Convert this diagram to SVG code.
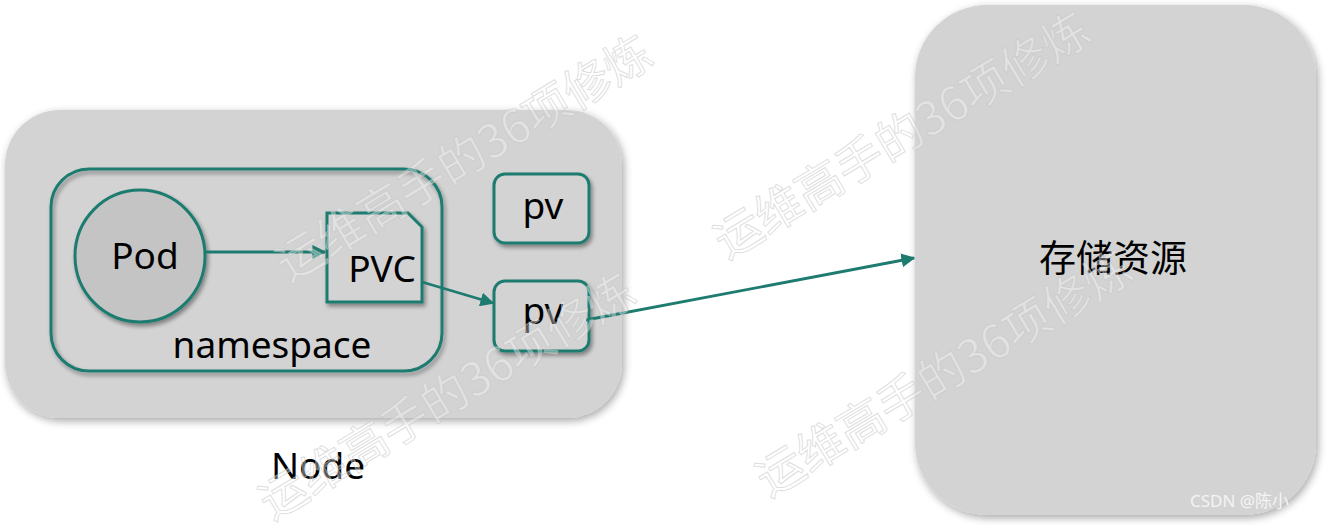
<svg xmlns="http://www.w3.org/2000/svg" width="1328" height="525" viewBox="0 0 1328 525">
<defs>
<filter id="soft" x="-10%" y="-10%" width="120%" height="120%">
<feGaussianBlur in="SourceAlpha" stdDeviation="4"/>
<feOffset dx="2" dy="3" result="b"/>
<feComponentTransfer><feFuncA type="linear" slope="0.35"/></feComponentTransfer>
<feMerge><feMergeNode/><feMergeNode in="SourceGraphic"/></feMerge>
</filter>
<filter id="sh" x="-10%" y="-10%" width="125%" height="125%">
<feGaussianBlur in="SourceAlpha" stdDeviation="2"/>
<feOffset dx="2" dy="3" result="b"/>
<feComponentTransfer><feFuncA type="linear" slope="0.4"/></feComponentTransfer>
<feMerge><feMergeNode/><feMergeNode in="SourceGraphic"/></feMerge>
</filter>
<marker id="arr" viewBox="0 0 10 10" refX="9" refY="5" markerWidth="5" markerHeight="5" orient="auto" markerUnits="strokeWidth">
<path d="M0,0 L10,5 L0,10 z" fill="#1e7b70"/>
</marker>
<style>
.lbl{font-family:"Noto Sans","Liberation Sans",sans-serif;font-size:37px;fill:#000;text-anchor:middle;dominant-baseline:central}
.cjk{font-family:"Noto Sans CJK SC",sans-serif;font-size:37px;font-weight:normal;fill:#000;text-anchor:middle;dominant-baseline:central}
.teal{fill:none;stroke:#1e7b70;stroke-width:3}
.bg{fill:#d3d3d3}
.wm{font-family:"Noto Sans CJK SC",sans-serif;font-size:47px;fill:#ffffff;fill-opacity:0.35;stroke:#c4c4c4;stroke-opacity:0.55;stroke-width:1;text-anchor:middle;dominant-baseline:central}
.conn{fill:none;stroke:#1e7b70;stroke-width:2.8;marker-end:url(#arr)}
</style>
</defs>
<rect width="1328" height="525" fill="#ffffff"/>
<g id="node">
<rect class="bg" x="5" y="110" width="617" height="308" rx="55" filter="url(#soft)"/>
<text class="lbl" x="318" y="464">Node</text>
</g>
<g id="storage">
<rect class="bg" x="915" y="5" width="401" height="510" rx="72" filter="url(#soft)"/>
<text class="cjk" x="1113" y="256">存储资源</text>
</g>
<g id="namespace">
<rect class="teal" x="51" y="169" width="391" height="202" rx="38" filter="url(#sh)"/>
<text class="lbl" x="272" y="343">namespace</text>
</g>
<g id="pod">
<ellipse cx="140" cy="256" rx="65" ry="66" fill="#c4c4c4" stroke="#1e7b70" stroke-width="3" filter="url(#sh)"/>
<text class="lbl" x="145" y="254">Pod</text>
</g>
<g id="pvc">
<path d="M327,213 H408 L422,227 V302 H327 Z" fill="#d3d3d3" stroke="#1e7b70" stroke-width="3" filter="url(#sh)"/>
<text class="lbl" x="382" y="267">PVC</text>
</g>
<g id="pv1">
<rect x="494" y="174" width="95" height="69" rx="11" fill="#d3d3d3" stroke="#1e7b70" stroke-width="3" filter="url(#sh)"/>
<text class="lbl" x="543" y="204">pv</text>
</g>
<g id="pv2">
<rect x="494" y="281" width="95" height="70" rx="11" fill="#d3d3d3" stroke="#1e7b70" stroke-width="3" filter="url(#sh)"/>
<text class="lbl" x="543" y="309">pv</text>
</g>
<g id="connectors">
<line class="conn" x1="205" y1="252" x2="325" y2="252"/>
<line class="conn" x1="422" y1="282" x2="493" y2="303"/>
<line class="conn" x1="586" y1="320" x2="914" y2="258"/>
</g>
<g id="watermarks">
<text class="wm" transform="translate(462,155) rotate(-31)">运维高手的36项修炼</text>
<text class="wm" transform="translate(900,132) rotate(-31)">运维高手的36项修炼</text>
<text class="wm" transform="translate(445,393) rotate(-31)">运维高手的36项修炼</text>
<text class="wm" transform="translate(942,370) rotate(-31)">运维高手的36项修炼</text>
<text x="1190" y="507" font-family="Noto Sans, Noto Sans CJK SC, sans-serif" font-size="17" fill="#f4f4f4">CSDN @陈小</text>
</g>
</svg>
